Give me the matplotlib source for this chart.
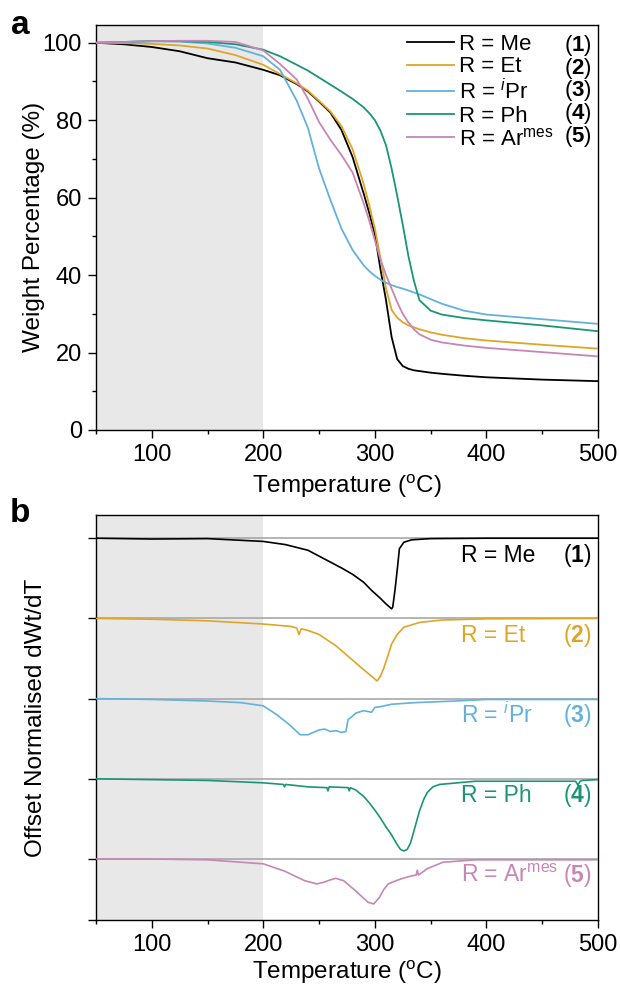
import matplotlib
matplotlib.use("Agg")
import matplotlib.pyplot as plt
from matplotlib.ticker import MultipleLocator

plt.rcParams['font.family'] = ['Liberation Sans', 'DejaVu Sans']
plt.rcParams['mathtext.fontset'] = 'custom'
plt.rcParams['mathtext.rm'] = 'Liberation Sans'
plt.rcParams['mathtext.it'] = 'Liberation Sans:italic'
plt.rcParams['mathtext.bf'] = 'Liberation Sans:bold'

# Series labels / colours
names = ["R = Me", "R = Et", r"R = $^{i}$Pr", "R = Ph", r"R = Ar$^{\mathrm{mes}}$"]
numbers = [r"($\mathbf{1}$)", r"($\mathbf{2}$)", r"($\mathbf{3}$)", r"($\mathbf{4}$)", r"($\mathbf{5}$)"]
colors = ["#000000", "#E0A526", "#62B2DC", "#1A9676", "#C786B6"]

# (a) TGA - weight percentage vs temperature
tga_temp = [50, 75, 100, 125, 150, 175, 200, 215, 230, 240, 250, 260, 270, 280, 290, 295,
            300, 305, 310, 315, 320, 325, 330, 335, 340, 350, 360, 380, 400, 450, 500]
tga_me = [100, 99.6, 98.9, 97.8, 96.0, 94.9, 93.0, 91.6, 89.3, 87.4, 84.8, 82.0, 77.5, 70.5, 61.0, 56.0,
          50.5, 41.5, 33.5, 24.0, 18.3, 16.5, 15.8, 15.4, 15.2, 14.8, 14.5, 14.0, 13.6, 13.0, 12.6]
tga_et = [100, 99.9, 99.7, 99.3, 98.5, 96.8, 94.3, 91.9, 89.5, 87.6, 85.0, 82.3, 78.5, 72.5, 63.5, 58.0,
          52.0, 44.5, 36.5, 31.0, 29.0, 27.8, 27.0, 26.5, 26.0, 25.2, 24.6, 23.7, 23.1, 22.0, 21.0]
tga_ipr = [100, 100.2, 100.4, 100.3, 99.8, 98.7, 96.5, 93.0, 85.0, 78.0, 67.5, 59.5, 52.0, 46.5, 42.5, 41.0,
           39.8, 38.8, 38.0, 37.4, 36.9, 36.5, 36.0, 35.5, 35.0, 33.8, 32.6, 30.8, 29.8, 28.6, 27.4]
tga_ph = [100, 100.2, 100.4, 100.4, 100.2, 99.6, 98.2, 96.5, 94.3, 92.8, 91.0, 89.2, 87.4, 85.5, 83.3, 81.8,
          80.0, 77.3, 73.5, 67.5, 60.5, 53.0, 45.0, 38.5, 33.5, 30.8, 29.8, 28.9, 28.3, 27.0, 25.5]
tga_armes = [100, 100.2, 100.4, 100.5, 100.5, 100.2, 98.0, 94.5, 90.5, 85.5, 79.5, 75.0, 71.0, 66.5, 58.5, 54.0,
             49.0, 44.0, 40.0, 36.5, 33.0, 30.0, 27.8, 26.0, 24.7, 23.3, 22.6, 21.8, 21.2, 20.1, 19.0]

# (b) DTG - normalised dWt/dT (each trace has its own temperature points)
dtg_me_t = [50, 100, 150, 200, 220, 240, 255, 270, 280, 290, 297, 305, 310, 315, 316, 318, 320, 322, 326, 333, 350, 400, 500]
dtg_me = [0, -0.01, -0.005, -0.04, -0.08, -0.15, -0.26, -0.37, -0.45, -0.55, -0.65, -0.75, -0.82, -0.88,
          -0.86, -0.65, -0.4, -0.13, -0.05, -0.02, -0.005, 0, 0]
dtg_et_t = [50, 100, 150, 200, 225, 230, 232, 234, 240, 250, 265, 280, 290, 297, 302, 305, 308, 312, 315,
            320, 326, 340, 360, 400, 500]
dtg_et = [0, -0.01, -0.03, -0.07, -0.1, -0.12, -0.2, -0.13, -0.15, -0.2, -0.34, -0.52, -0.64, -0.72, -0.78,
          -0.72, -0.62, -0.45, -0.32, -0.2, -0.11, -0.05, -0.02, -0.005, 0]
dtg_ipr_t = [50, 100, 150, 180, 200, 212, 223, 233, 240, 245, 250, 255, 260, 265, 270, 274, 276, 278, 283,
             290, 297, 300, 305, 315, 336, 372, 400, 500]
dtg_ipr = [0, -0.01, -0.03, -0.05, -0.09, -0.2, -0.32, -0.45, -0.45, -0.42, -0.39, -0.38, -0.41, -0.4,
           -0.42, -0.41, -0.26, -0.24, -0.18, -0.15, -0.17, -0.11, -0.1, -0.07, -0.05, -0.03, -0.01, -0.01]
dtg_ph_t = [50, 100, 150, 200, 218, 219, 220, 240, 257, 258, 259, 276, 277, 278, 283, 290, 295, 300, 305,
            310, 315, 320, 323, 326, 329, 332, 334, 337, 340, 344, 347, 352, 358, 390, 480, 482, 484, 486, 500]
dtg_ph = [0, -0.01, -0.02, -0.05, -0.07, -0.1, -0.07, -0.1, -0.11, -0.15, -0.1, -0.11, -0.15, -0.11, -0.14,
          -0.22, -0.3, -0.39, -0.49, -0.6, -0.7, -0.82, -0.88, -0.9, -0.88, -0.8, -0.7, -0.55, -0.4, -0.25,
          -0.17, -0.1, -0.07, -0.03, -0.03, -0.08, -0.03, -0.02, -0.01]
dtg_armes_t = [50, 100, 150, 200, 219, 237, 248, 254, 260, 265, 272, 283, 290, 294, 299, 304, 308, 312,
               319, 325, 333, 337, 338, 339, 347, 361, 390, 500]
dtg_armes = [0, 0, -0.01, -0.06, -0.15, -0.27, -0.31, -0.29, -0.26, -0.24, -0.27, -0.4, -0.49, -0.54,
             -0.56, -0.48, -0.38, -0.31, -0.27, -0.24, -0.21, -0.2, -0.14, -0.2, -0.12, -0.04, -0.01, -0.01]
offsets = [4, 3, 2, 1, 0]

tga_series = [tga_me, tga_et, tga_ipr, tga_ph, tga_armes]
dtg_series = [(dtg_me_t, dtg_me), (dtg_et_t, dtg_et), (dtg_ipr_t, dtg_ipr),
              (dtg_ph_t, dtg_ph), (dtg_armes_t, dtg_armes)]

TICK_FS = 17
LABEL_FS = 17.5
TEXT_FS = 16
xlabel = r"Temperature ($^{\mathrm{o}}$C)"


def style_axis(ax):
    ax.set_xlim(50, 500)
    ax.xaxis.set_major_locator(MultipleLocator(100))
    ax.xaxis.set_minor_locator(MultipleLocator(50))
    ax.tick_params(which='major', direction='out', length=6, width=1.0, labelsize=TICK_FS, pad=4)
    ax.tick_params(which='minor', direction='out', length=3, width=1.0)
    for spine in ax.spines.values():
        spine.set_linewidth(1.0)
    ax.axvspan(50, 200, color="#E8E8E8", zorder=0, lw=0)
    ax.set_xlabel(xlabel, fontsize=LABEL_FS)


fig = plt.figure(figsize=(6.2, 9.85), dpi=100)

# Panel a
ax_a = fig.add_axes([0.1548, 0.5635, 0.8097, 0.4112])
style_axis(ax_a)
lines = []
for vals, c in zip(tga_series, colors):
    ln, = ax_a.plot(tga_temp, vals, color=c, lw=1.3, zorder=3)
    lines.append(ln)
ax_a.set_ylim(0, 104.6)
ax_a.yaxis.set_major_locator(MultipleLocator(20))
ax_a.yaxis.set_minor_locator(MultipleLocator(10))
ax_a.set_ylabel("Weight Percentage (%)", fontsize=LABEL_FS)
ax_a.yaxis.set_label_coords(-0.102, 0.5)
ax_a.xaxis.set_label_coords(0.5, -0.105)
ax_a.legend(lines, names, loc='upper left', bbox_to_anchor=(0.6195, 0.978), frameon=False,
            fontsize=TEXT_FS, handlelength=2.1, handletextpad=0.25, labelspacing=0.07,
            borderpad=0, borderaxespad=0)
row_y = [0.950, 0.8935, 0.837, 0.7805, 0.724]
for num, y in zip(numbers, row_y):
    ax_a.text(0.988, y, num, transform=ax_a.transAxes, ha='right', va='center', fontsize=TEXT_FS)

# Panel b
ax_b = fig.add_axes([0.1548, 0.0660, 0.8097, 0.4112])
style_axis(ax_b)
for (t, v), off, c, name, num in zip(dtg_series, offsets, colors, names, numbers):
    ax_b.axhline(off, color="#A8A8A8", lw=1.2, zorder=1)
    ax_b.plot(t, [val + off for val in v], color=c, lw=1.2, zorder=3)
    ax_b.text(377, off - 0.21, name, color=c, fontsize=TEXT_FS + 0.5, ha='left', va='center')
    ax_b.text(494, off - 0.21, num, color=c, fontsize=TEXT_FS + 0.5, ha='right', va='center')
ax_b.set_ylim(-0.76, 4.29)
ax_b.set_yticks([-0.76] + offsets)
ax_b.set_yticklabels([])
ax_b.set_ylabel("Offset Normalised dWt/dT", fontsize=LABEL_FS)
ax_b.yaxis.set_label_coords(-0.098, 0.5)
ax_b.xaxis.set_label_coords(0.5, -0.095)

fig.text(20 / 620, 1 - 25 / 985, "a", fontsize=24, fontweight='bold', ha='center', va='center')
fig.text(20 / 620, 1 - 513 / 985, "b", fontsize=24, fontweight='bold', ha='center', va='center')

plt.savefig("out.png", dpi=100)
